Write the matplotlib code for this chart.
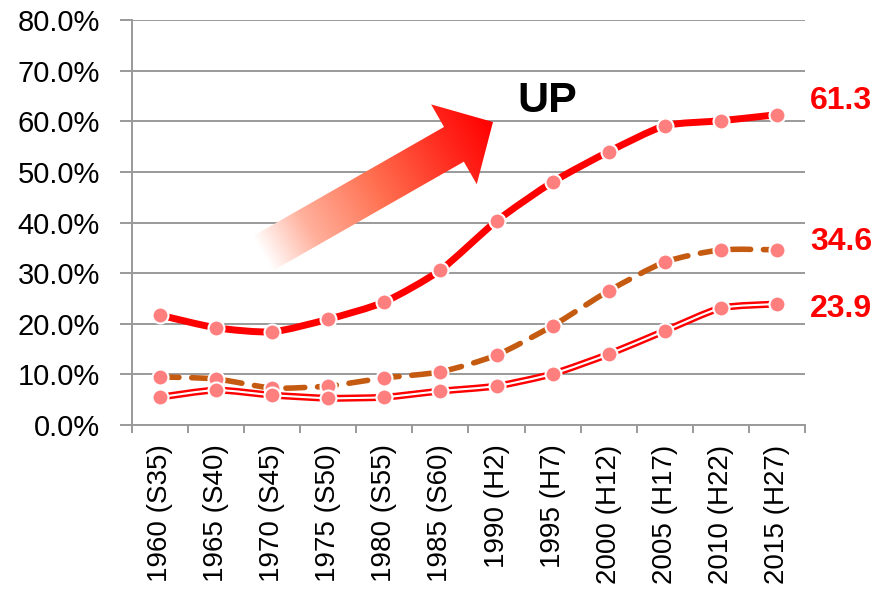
import numpy as np
import matplotlib
matplotlib.use('Agg')
from matplotlib import pyplot as plt
from matplotlib.path import Path
from matplotlib.patches import PathPatch, Polygon
from matplotlib.colors import LinearSegmentedColormap

years = ['1960 (S35)', '1965 (S40)', '1970 (S45)', '1975 (S50)', '1980 (S55)', '1985 (S60)',
         '1990 (H2)', '1995 (H7)', '2000 (H12)', '2005 (H17)', '2010 (H22)', '2015 (H27)']
rate_top = [21.7, 19.2, 18.4, 20.9, 24.3, 30.6, 40.3, 48.0, 54.0, 59.1, 60.1, 61.3]
rate_mid = [9.5, 9.1, 7.3, 7.7, 9.3, 10.5, 13.8, 19.6, 26.5, 32.2, 34.6, 34.6]
rate_low = [5.5, 6.9, 5.9, 5.3, 5.5, 6.7, 7.7, 10.1, 14.0, 18.6, 23.1, 23.9]
y_ticks = [0, 10, 20, 30, 40, 50, 60, 70, 80]

RED = '#FF0000'
BROWN = '#C55A11'
PINK = '#FF7F7F'
GRAY = '#9A9A9A'


def smooth_path(xs, ys, t=0.11):
    # bezier through every point, light smoothing
    pts = np.column_stack([xs, ys]).astype(float)
    n = len(pts)
    verts = [pts[0]]
    codes = [Path.MOVETO]
    for i in range(n - 1):
        p0 = pts[max(i - 1, 0)]
        p1 = pts[i]
        p2 = pts[i + 1]
        p3 = pts[min(i + 2, n - 1)]
        verts += [p1 + (p2 - p0) * t, p2 - (p3 - p1) * t, p2]
        codes += [Path.CURVE4] * 3
    return Path(verts, codes)


def curve(ax, ys, **kw):
    patch = PathPatch(smooth_path(np.arange(len(ys)), ys), fill=False, **kw)
    ax.add_patch(patch)
    return patch


fig = plt.figure(figsize=(8.79, 5.89), dpi=100)
ax = fig.add_axes([132 / 879, 1 - 425 / 589, (805 - 132) / 879, (425 - 20) / 589])

x = np.arange(len(years))
ax.set_xlim(-0.5, len(years) - 0.5)
ax.set_ylim(0, 80)

ax.set_yticks(y_ticks)
ax.set_yticklabels([f'{v:.1f}%' for v in y_ticks], family='Liberation Sans', fontsize=21)
ax.grid(axis='y', color=GRAY, lw=1.4, zorder=0)
ax.set_axisbelow(True)
ax.tick_params(axis='y', length=9, width=1.4, color=GRAY, pad=14)

ax.set_xticks(x)
ax.set_xticklabels(years, rotation=90, family='Liberation Sans', fontsize=20,
                   va='top', ha='center')
ax.set_xticks(np.arange(-0.5, len(years)), minor=True)
ax.tick_params(axis='x', which='major', length=0, pad=14)
ax.tick_params(axis='x', which='minor', length=6, width=1.4, color=GRAY)

for side in ['top', 'right']:
    ax.spines[side].set_visible(False)
for side in ['left', 'bottom']:
    ax.spines[side].set_color(GRAY)
    ax.spines[side].set_linewidth(1.4)

# top line: thick solid red
curve(ax, rate_top, color=RED, lw=5, capstyle='round', joinstyle='round', zorder=3)

# middle line: brown long dashes
mid = curve(ax, rate_mid, color=BROWN, lw=4, zorder=3)
mid.set_linestyle((0, (3.4, 2.3)))
mid.set_capstyle('round')

# bottom line: red double line
curve(ax, rate_low, color=RED, lw=5, zorder=3)
curve(ax, rate_low, color='white', lw=1.5, zorder=3)

for ys in (rate_top, rate_mid, rate_low):
    ax.plot(x, ys, 'o', ms=11.5, mfc=PINK, mec='white', mew=1.5, zorder=4, clip_on=False)

for ys, dy in ((rate_top, 10), (rate_mid, 6), (rate_low, -3.6)):
    ax.annotate(f'{ys[-1]:.1f}', xy=(x[-1], ys[-1]), xytext=(46, dy), textcoords='offset points',
                ha='center', va='center', color=RED, fontsize=23, fontweight='bold',
                family='Liberation Sans', annotation_clip=False)

# gradient arrow on a pixel-space overlay
ov = fig.add_axes([0, 0, 1, 1])
ov.set_xlim(0, 879)
ov.set_ylim(589, 0)
ov.axis('off')
ov.patch.set_alpha(0)

tail = np.array([262.0, 254.0])
tip = np.array([493.0, 122.0])
u = (tip - tail) / np.linalg.norm(tip - tail)
nrm = np.array([-u[1], u[0]])
neck = tip - u * 45
sw, hw = 20, 46
shape = [tail + nrm * sw, neck + nrm * sw, neck + nrm * hw, tip,
         neck - nrm * hw, neck - nrm * sw, tail - nrm * sw]
poly = Polygon(shape, closed=True, fc='none', ec='none')
ov.add_patch(poly)

gx, gy = np.meshgrid(np.linspace(230, 510, 300), np.linspace(100, 290, 200))
s = ((gx - tail[0]) * u[0] + (gy - tail[1]) * u[1]) / np.linalg.norm(tip - tail)
s = np.clip(s, 0, 1)
cmap = LinearSegmentedColormap.from_list(
    'up', [(0, '#FFFFFF'), (0.2, '#FFB09C'), (0.5, '#FF7050'), (0.8, '#FF2A1E'), (1, '#FF0000')])
img = ov.imshow(s, extent=(230, 510, 290, 100), cmap=cmap, vmin=0, vmax=1,
                interpolation='bilinear', aspect='auto')
img.set_clip_path(poly)

ov.text(547, 101, 'UP', ha='center', va='center', fontsize=31, fontweight='bold',
        family='Liberation Sans', color='black')

fig.savefig('out.png', dpi=100)
